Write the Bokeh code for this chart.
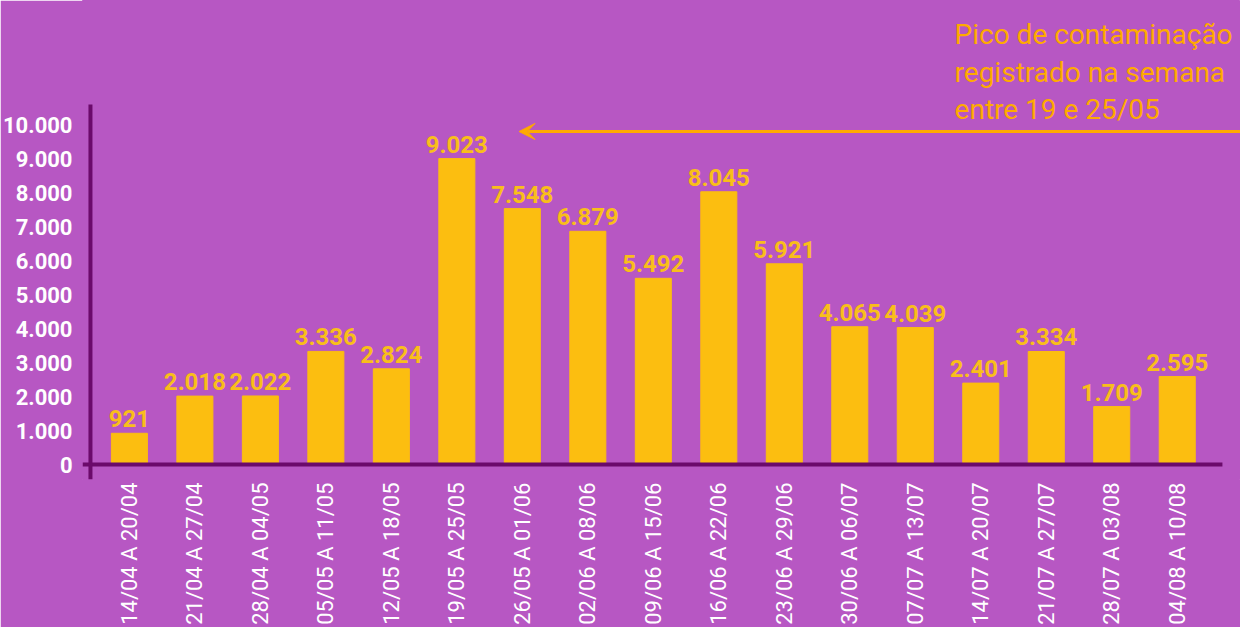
import numpy as np
from bokeh.plotting import figure
from bokeh.models import Range1d, FixedTicker, Arrow, VeeHead, Label, ColumnDataSource
from bokeh.core.properties import value
from bokeh.embed import file_html
from bokeh.resources import INLINE

weeks = ["14/04 A 20/04", "21/04 A 27/04", "28/04 A 04/05", "05/05 A 11/05", "12/05 A 18/05",
         "19/05 A 25/05", "26/05 A 01/06", "02/06 A 08/06", "09/06 A 15/06", "16/06 A 22/06",
         "23/06 A 29/06", "30/06 A 06/07", "07/07 A 13/07", "14/07 A 20/07", "21/07 A 27/07",
         "28/07 A 03/08", "04/08 A 10/08"]
cases = [921, 2018, 2022, 3336, 2824, 9023, 7548, 6879, 5492, 8045, 5921, 4065, 4039, 2401,
         3334, 1709, 2595]
y_ticks = [0, 1000, 2000, 3000, 4000, 5000, 6000, 7000, 8000, 9000, 10000]
note_lines = ["Pico de contaminação", "registrado na semana", "entre 19 e 25/05"]

BG = "#B757C3"
BAR = "#FCBE10"
AXIS = "#6B0A6B"
ORANGE = "#FFAA00"

def fmt(v):
    return f"{v:,}".replace(",", ".")

xs = np.arange(len(weeks))
src = ColumnDataSource(dict(x=xs, y=cases, lbl=[fmt(v) for v in cases]))

X0, X1 = -0.716, 16.966
Y0, Y1 = -442, 13687

p = figure(width=1240, height=627, output_backend="svg", toolbar_location=None,
           x_range=Range1d(X0, X1), y_range=Range1d(Y0, Y1),
           min_border_left=80, min_border_right=0, min_border_top=0, min_border_bottom=148)
p.background_fill_color = BG
p.border_fill_color = BG
p.outline_line_color = BG
p.outline_line_width = 1
p.xgrid.grid_line_color = None
p.ygrid.grid_line_color = None

p.vbar(x="x", top="y", bottom=0, width=0.55, color=BAR, source=src)
p.text(x="x", y="y", text="lbl", source=src, text_align="center", text_baseline="bottom",
       y_offset=-6, text_color="#F9BE1A", text_font=value("Roboto"), text_font_style="bold",
       text_font_size="24px")

# axis lines (decoration)
p.segment(x0=[X0], y0=[0], x1=[16.69], y1=[0], line_color=AXIS, line_width=4)
p.segment(x0=[-0.5945], y0=[Y0], x1=[-0.5945], y1=[10619], line_color=AXIS, line_width=4)

# y axis
p.yaxis.ticker = FixedTicker(ticks=y_ticks)
p.yaxis.major_label_overrides = {t: fmt(t) for t in y_ticks}
p.yaxis.axis_line_color = None
p.yaxis.major_tick_line_color = None
p.yaxis.major_tick_out = 0
p.yaxis.major_tick_in = 0
p.yaxis.minor_tick_line_color = None
p.yaxis.major_label_standoff = 10
p.yaxis.major_label_text_color = "white"
p.yaxis.major_label_text_font = "Roboto"
p.yaxis.major_label_text_font_size = "22px"
p.yaxis.major_label_text_font_style = "bold"

# x axis
p.xaxis.ticker = FixedTicker(ticks=list(xs))
p.xaxis.major_label_overrides = {int(i): w for i, w in zip(xs, weeks)}
p.xaxis.axis_line_color = None
p.xaxis.major_tick_line_color = None
p.xaxis.major_tick_out = 0
p.xaxis.major_tick_in = 0
p.xaxis.minor_tick_line_color = None
p.xaxis.major_label_orientation = np.pi / 2
p.xaxis.major_label_standoff = 3
p.xaxis.major_label_text_color = "white"
p.xaxis.major_label_text_font = "Roboto"
p.xaxis.major_label_text_font_size = "22px"

# annotation
p.add_layout(Arrow(end=VeeHead(size=16, fill_color=ORANGE, line_color=ORANGE),
                   x_start=17.2, y_start=9823, x_end=5.95, y_end=9823,
                   line_color=ORANGE, line_width=3))
for t, yy in zip(note_lines, [12684, 11563, 10472]):
    p.add_layout(Label(x=12.6, y=yy, text=t, text_color=ORANGE,
                       text_font="Roboto", text_font_size="28px", text_baseline="alphabetic"))

open("out.html", "w").write(file_html(p, INLINE))
